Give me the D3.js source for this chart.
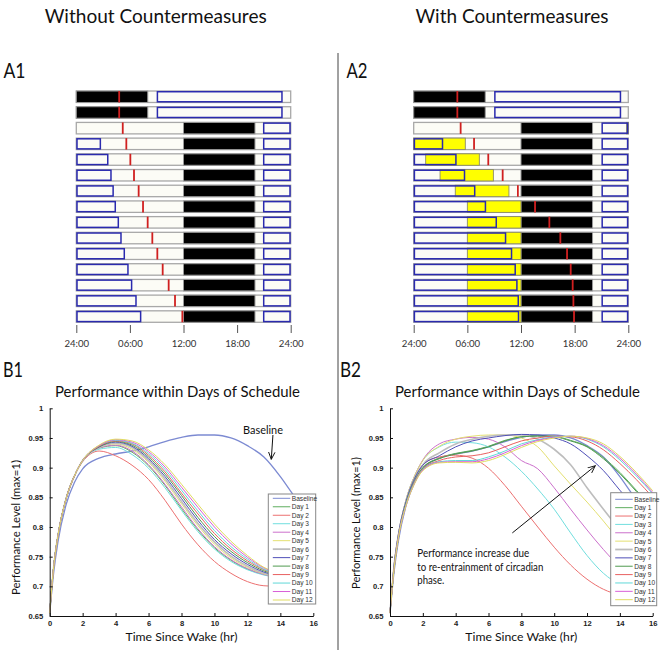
<!DOCTYPE html>
<html><head><meta charset="utf-8">
<script src="https://cdn.jsdelivr.net/npm/d3@7"></script>
<style>body{margin:0;background:#fff}svg{display:block}</style>
</head><body>
<svg id="c" width="662" height="650"></svg>
<script>
// ---------------- DATA ----------------
const clockHours = [0, 6, 12, 18, 24];
const clockLabels = ["24:00", "06:00", "12:00", "18:00", "24:00"];

// A1 (without countermeasures): one entry per row (2 baseline rows + 13 schedule days)
const a1Sleep = [[0,8],[0,8],[12,20],[12,20],[12,20],[12,20],[12,20],[12,20],[12,20],[12,20],[12,20],[12,20],[12,20],[12,20],[12,20]];
const a1Boxes = [
  [[9,23.1]], [[9,23.1]], [[20.9,24]],
  [[0,2.77],[20.9,24]], [[0,3.6],[20.9,24]], [[0,3.96],[20.9,24]], [[0,4.2],[20.9,24]],
  [[0,4.44],[20.9,24]], [[0,4.78],[20.9,24]], [[0,5.08],[20.9,24]], [[0,5.45],[20.9,24]],
  [[0,5.86],[20.9,24]], [[0,6.27],[20.9,24]], [[0,6.76],[20.9,24]], [[0,7.28],[20.9,24]]
];
const a1Light = [[],[],[],[],[],[],[],[],[],[],[],[],[],[],[]];
const a1Nadir = [4.8,4.8,5.2,5.6,6.05,6.46,6.98,7.47,7.99,8.51,9.07,9.67,10.34,11.05,11.87];

// A2 (with countermeasures)
const a2Sleep = a1Sleep;
const a2Boxes = [
  [[9,23.2]], [[9,23.2]], [[21,24]],
  [[0,3.3],[21,24]], [[0,4.8],[21,24]], [[0,5.76],[21,24]], [[0,6.9],[21,24]],
  [[0,8.1],[21,24]], [[0,9.31],[21,24]], [[0,10.35],[21,24]], [[0,11.02],[21,24]],
  [[0,11.43],[21,24]], [[0,11.62],[21,24]], [[0,11.77],[21,24]], [[0,11.8],[21,24]]
];
const a2Light = [[],[],[[23.8,24]],[[0,5.77]],[[1.34,7.34]],[[2.95,8.91]],[[4.65,10.65]],
  [[6,12]],[[6,12]],[[6,12]],[[6,12]],[[6,12]],[[6,12]],[[6,12]],[[6,12]]];
const a2Nadir = [4.88,4.88,5.25,6.75,8.34,9.95,11.65,13.57,15.17,16.4,17.15,17.56,17.78,17.86,17.93];

// B panels
const timeSinceWake = [0,0.25,0.5,1,1.5,2,3,4,5,6,7,8,9,10,11,12,13,14,15,16];
const seriesNames = ["Baseline","Day 1","Day 2","Day 3","Day 4","Day 5","Day 6","Day 7","Day 8","Day 9","Day 10","Day 11","Day 12"];
const seriesColors = ["#7c8ad2","#5fae5f","#ec7070","#70dede","#cc70cc","#e4e070","#bdbdbd","#4f4fb8","#4f9a4f","#e86060","#60d8d8","#d860d8","#e0dc60"];

const perfWithout = [
  [.655,.725,.775,.838,.875,.898,.916,.923,.928,.935,.944,.951,.955,.955,.950,.937,.918,.885,.845,.805],
  [.655,.735,.785,.848,.886,.912,.933,.937,.926,.903,.870,.831,.795,.765,.744,.729,.720,.714,.710,.710],
  [.655,.735,.785,.848,.886,.910,.928,.920,.904,.880,.845,.805,.770,.742,.722,.708,.701,.700,.703,.707],
  [.655,.735,.785,.848,.886,.911,.931,.934,.922,.899,.866,.828,.792,.763,.742,.728,.719,.714,.710,.710],
  [.655,.735,.785,.848,.886,.912,.933,.938,.928,.905,.872,.834,.797,.767,.745,.730,.720,.715,.711,.710],
  [.655,.735,.785,.848,.886,.912,.934,.940,.931,.909,.877,.839,.802,.771,.748,.732,.721,.715,.711,.710],
  [.655,.735,.785,.848,.886,.912,.934,.941,.934,.912,.881,.843,.806,.775,.751,.734,.722,.716,.712,.710],
  [.655,.735,.785,.848,.886,.912,.935,.943,.936,.915,.885,.848,.811,.779,.755,.737,.724,.717,.712,.710],
  [.655,.735,.785,.848,.886,.912,.935,.944,.938,.918,.889,.853,.816,.784,.759,.740,.726,.718,.713,.710],
  [.655,.735,.785,.848,.886,.912,.936,.945,.940,.921,.893,.857,.822,.789,.763,.743,.728,.719,.713,.711],
  [.655,.735,.785,.848,.886,.912,.937,.946,.941,.924,.897,.862,.827,.794,.767,.746,.729,.720,.714,.711],
  [.655,.735,.785,.848,.886,.912,.937,.947,.943,.927,.901,.867,.833,.800,.772,.749,.731,.721,.714,.711],
  [.655,.735,.785,.848,.886,.912,.938,.948,.945,.930,.905,.872,.838,.805,.776,.752,.732,.722,.715,.711]
];

const perfWith = [
  [.655,.725,.775,.838,.875,.898,.916,.923,.928,.935,.944,.951,.955,.955,.950,.937,.918,.885,.845,.805],
  [.655,.730,.780,.842,.878,.900,.916,.924,.929,.936,.946,.952,.954,.953,.946,.936,.917,.892,.862,.832],
  [.655,.735,.785,.845,.882,.905,.918,.921,.916,.899,.870,.835,.800,.766,.736,.712,.695,.686,.684,.684],
  [.655,.735,.785,.848,.886,.912,.935,.943,.942,.935,.918,.894,.864,.830,.790,.752,.722,.703,.693,.690],
  [.655,.735,.785,.848,.886,.913,.940,.948,.951,.948,.935,.912,.898,.866,.830,.795,.762,.733,.712,.700],
  [.655,.735,.785,.848,.886,.912,.936,.948,.953,.955,.955,.950,.935,.903,.872,.842,.810,.776,.745,.720],
  [.655,.735,.785,.845,.882,.905,.925,.940,.948,.953,.955,.955,.948,.931,.905,.866,.830,.795,.762,.735],
  [.655,.735,.785,.845,.882,.904,.920,.935,.945,.950,.954,.956,.955,.950,.940,.920,.895,.862,.830,.800],
  [.655,.730,.780,.842,.878,.900,.915,.923,.928,.935,.945,.952,.953,.952,.945,.935,.915,.890,.860,.830],
  [.655,.730,.780,.840,.876,.898,.912,.918,.920,.925,.935,.945,.950,.953,.952,.945,.930,.907,.880,.850],
  [.655,.730,.780,.840,.875,.897,.910,.912,.912,.918,.928,.940,.947,.952,.953,.948,.935,.913,.886,.856],
  [.655,.730,.780,.838,.874,.896,.909,.910,.910,.915,.925,.937,.946,.951,.953,.949,.937,.916,.889,.858],
  [.655,.730,.780,.838,.873,.895,.908,.909,.908,.912,.922,.934,.944,.950,.953,.950,.940,.919,.892,.861]
];

const perfTicks = [0.65,0.7,0.75,0.8,0.85,0.9,0.95,1];
const hourTicks = [0,2,4,6,8,10,12,14,16];

// ---------------- DRAW ----------------
const svg = d3.select("#c");
svg.append("rect").attr("width",662).attr("height",650).attr("fill","#fff");
const FONT = "Lato, 'Open Sans', sans-serif";

function label(txt, x, y, size, len, anchor) {
  const t = svg.append("text").attr("x",x).attr("y",y).attr("font-family",FONT)
    .attr("font-size",size).attr("fill","#111").attr("text-anchor",anchor||"start").text(txt);
  if (len) t.attr("textLength",len).attr("lengthAdjust","spacingAndGlyphs");
  return t;
}

label("Without Countermeasures",155.7,23,20,222,"middle");
label("With Countermeasures",512,23,20,193,"middle");
label("A1",3.4,78,21,22);
label("A2",346.4,78,21,21);
label("B1",3,377,21,20);
label("B2",340,377,21,21);

svg.append("line").attr("x1",338).attr("x2",338).attr("y1",53).attr("y2",650)
  .attr("stroke","#444").attr("stroke-width",1);

function raster(x0, x1, sleep, boxes, lights, nadir) {
  const x = d3.scaleLinear().domain([0,24]).range([x0,x1]);
  const y = d3.scaleBand().domain(d3.range(15)).range([88.9,324.4]).paddingInner(0.27).paddingOuter(0.135);
  const bw = y.bandwidth();
  const g = svg.append("g");
  const rows = g.selectAll("g.row").data(d3.range(15)).join("g").attr("class","row");
  rows.append("rect").attr("x",x(0)).attr("width",x(24)-x(0)).attr("y",i=>y(i)).attr("height",bw)
    .attr("fill","#fcfcf6").attr("stroke","#a8a8a8").attr("stroke-width",1.3);
  rows.append("rect").attr("x",i=>x(sleep[i][0])).attr("width",i=>x(sleep[i][1])-x(sleep[i][0]))
    .attr("y",i=>y(i)).attr("height",bw).attr("fill","#000").attr("stroke","#999").attr("stroke-width",1);
  rows.each(function(i){
    const r = d3.select(this);
    r.selectAll("rect.light").data(lights[i]).join("rect").attr("class","light")
      .attr("x",d=>x(d[0])).attr("width",d=>x(d[1])-x(d[0])).attr("y",y(i)).attr("height",bw)
      .attr("fill","#ffff00").attr("stroke","#8a8a6a").attr("stroke-width",0.9);
    r.selectAll("rect.box").data(boxes[i]).join("rect").attr("class","box")
      .attr("x",d=>x(d[0])+0.7).attr("width",d=>x(d[1])-x(d[0])-1.4).attr("y",y(i)+0.7).attr("height",bw-1.4)
      .attr("fill","none").attr("stroke","#2a2aae").attr("stroke-width",1.5);
  });
  rows.append("line").attr("x1",i=>x(nadir[i])).attr("x2",i=>x(nadir[i]))
    .attr("y1",i=>y(i)).attr("y2",i=>y(i)+bw).attr("stroke","#d02020").attr("stroke-width",1.8);
  const ax = g.append("g").attr("transform","translate(0,325)")
    .call(d3.axisBottom(x).tickValues(clockHours).tickFormat((d,i)=>clockLabels[i]).tickSize(8).tickPadding(7));
  ax.select(".domain").remove();
  ax.selectAll("line").attr("stroke","#555");
  ax.selectAll("text").attr("font-family",FONT).attr("font-size",9.6).attr("fill","#333");
}
raster(76.3, 290.7, a1Sleep, a1Boxes, a1Light, a1Nadir);
raster(413.7, 628.3, a2Sleep, a2Boxes, a2Light, a2Nadir);

function perfPanel(x0, x1, data, legendBox, legendFirst, legendLast, cx) {
  const x = d3.scaleLinear().domain([0,16]).range([x0,x1]);
  const y = d3.scaleLinear().domain([0.65,1]).range([616,408.3]);
  const g = svg.append("g");
  const line = d3.line().x((d,i)=>x(timeSinceWake[i])).y(d=>y(d)).curve(d3.curveMonotoneX);
  data.forEach((vals,k)=>{
    g.append("path").attr("d",line(vals)).attr("fill","none").attr("stroke",seriesColors[k])
      .attr("stroke-width",k===6?1.6:(k===0?1.3:1));
  });
  const ya = g.append("g").attr("transform",`translate(${x0},0)`)
    .call(d3.axisLeft(y).tickValues(perfTicks).tickFormat(d=>String(+d.toFixed(2))).tickSize(-3).tickSizeOuter(0).tickPadding(6.5));
  const xa = g.append("g").attr("transform","translate(0,616)")
    .call(d3.axisBottom(x).tickValues(hourTicks).tickSize(-3).tickSizeOuter(0).tickPadding(5));
  [ya,xa].forEach(a=>{
    a.selectAll("text").attr("font-family","Arial, 'Liberation Sans', sans-serif").attr("font-size",7.6)
      .attr("font-weight","bold").attr("fill","#222");
    a.select(".domain").attr("stroke","#111");
    a.selectAll("line").attr("stroke","#111");
  });
  const [lx0,lx1,ly0,ly1] = legendBox;
  const lg = g.append("g");
  lg.append("rect").attr("x",lx0).attr("y",ly0).attr("width",lx1-lx0).attr("height",ly1-ly0)
    .attr("fill","#fff").attr("stroke","#888").attr("stroke-width",1);
  const ly = d3.scalePoint().domain(seriesNames).range([legendFirst,legendLast]);
  seriesNames.forEach((n,k)=>{
    lg.append("line").attr("x1",lx0+4.5).attr("x2",lx0+22).attr("y1",ly(n)).attr("y2",ly(n))
      .attr("stroke",seriesColors[k]).attr("stroke-width",k===6?1.8:1);
    lg.append("text").attr("x",lx0+23.5).attr("y",ly(n)+2.4).attr("font-family","Arial, 'Liberation Sans', sans-serif")
      .attr("font-size",6.6).attr("fill","#333").text(n);
  });
  label("Performance within Days of Schedule",cx,397,14.5,245,"middle");
  label("Time Since Wake (hr)",(x0+x1)/2,641,12,112,"middle");
  return {x,y,g};
}

const p1 = perfPanel(49.7,313.3,perfWithout,[268.3,315.7,494,604],498.3,600,177.5);
const p2 = perfPanel(390,652.7,perfWith,[610.7,656.7,492.7,605.7],499.3,599.7,517.5);

svg.append("text").attr("transform","translate(19.5,527.5) rotate(-90)").attr("text-anchor","middle")
  .attr("font-family",FONT).attr("font-size",12).attr("fill","#111")
  .attr("textLength",135).attr("lengthAdjust","spacingAndGlyphs").text("Performance Level (max=1)");
svg.append("text").attr("transform","translate(360,523) rotate(-90)").attr("text-anchor","middle")
  .attr("font-family",FONT).attr("font-size",12).attr("fill","#111")
  .attr("textLength",132).attr("lengthAdjust","spacingAndGlyphs").text("Performance Level (max=1)");

svg.append("defs").append("marker").attr("id","ah").attr("viewBox","0 0 10 10").attr("refX",9).attr("refY",5)
  .attr("markerWidth",8).attr("markerHeight",8).attr("orient","auto")
  .append("path").attr("d","M0,1 L9,5 L0,9").attr("fill","none").attr("stroke","#111").attr("stroke-width",1.2);

label("Baseline",263,434,11.5,40,"middle");
svg.append("path").attr("d",`M${p1.x(13.55)},${p1.y(0.955)} Q${p1.x(13.5)},${p1.y(0.935)} ${p1.x(13.45)},${p1.y(0.914)}`)
  .attr("fill","none").attr("stroke","#111").attr("stroke-width",1).attr("marker-end","url(#ah)");

svg.append("line").attr("x1",p2.x(7.45)).attr("y1",p2.y(0.79)).attr("x2",p2.x(12.5)).attr("y2",p2.y(0.903))
  .attr("stroke","#111").attr("stroke-width",1).attr("marker-end","url(#ah)");
label("Performance increase due",417.3,557,10.5,112);
label("to re-entrainment of circadian",417.3,570.5,10.5,126);
label("phase.",417.3,584,10.5,27);
</script>
</body></html>
